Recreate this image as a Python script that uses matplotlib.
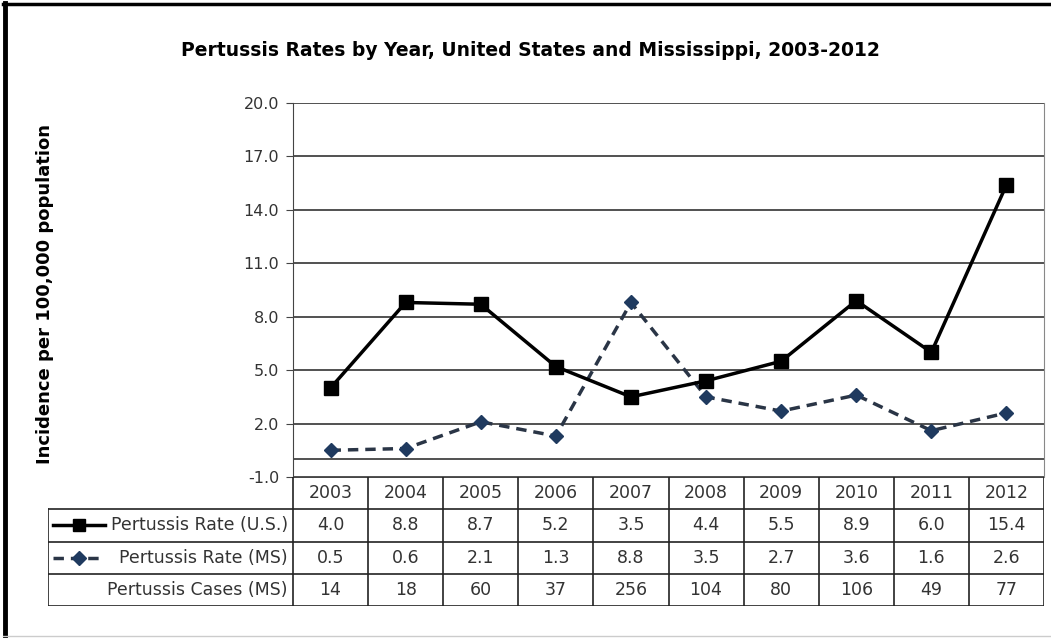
import numpy as np
import matplotlib.pyplot as plt
from matplotlib.lines import Line2D

years = ['2003', '2004', '2005', '2006', '2007', '2008', '2009', '2010', '2011', '2012']
rate_us = [4.0, 8.8, 8.7, 5.2, 3.5, 4.4, 5.5, 8.9, 6.0, 15.4]
rate_ms = [0.5, 0.6, 2.1, 1.3, 8.8, 3.5, 2.7, 3.6, 1.6, 2.6]
cases_ms = [14, 18, 60, 37, 256, 104, 80, 106, 49, 77]
row_labels = ['Pertussis Rate (U.S.)', 'Pertussis Rate (MS)', 'Pertussis Cases (MS)']

plt.rcParams['font.family'] = ['DejaVu Sans']

W, H = 1051, 638
fig = plt.figure(figsize=(W / 100, H / 100), dpi=100)


def px_axes(x0, y0, x1, y1, **kw):
    # axes placed by pixel box (top-left origin)
    return fig.add_axes([x0 / W, 1 - y1 / H, (x1 - x0) / W, (y1 - y0) / H], **kw)


# outer frame
frame = px_axes(0, 0, W, H)
frame.set_xlim(0, W)
frame.set_ylim(H, 0)
frame.axis('off')
frame.plot([5, 5], [3, H], color='black', lw=3.5)
frame.plot([3, W], [4, 4], color='black', lw=2.5)
frame.plot([3, W], [H - 2, H - 2], color='#cccccc', lw=1)

navy = '#1f3a5f'
x = np.arange(len(years))

ax = px_axes(293, 103, 1044, 477)
ax.plot(x, rate_us, color='black', lw=2.5, marker='s', ms=10.5, zorder=4)
ax.plot(x, rate_ms, color='#2a3546', lw=2.5, ls=(0, (3, 2)), marker='D', ms=7.5,
        mfc=navy, mec=navy, zorder=3)
ax.set_xlim(-0.5, len(years) - 0.5)
ax.set_ylim(-1, 20)
ax.set_yticks(np.arange(-1, 20.1, 3))
ax.set_yticklabels([f'{v:.1f}' for v in np.arange(-1, 20.1, 3)])
ax.set_xticks([])
ax.grid(axis='y', color='#333333', lw=1.2)
ax.axhline(0, color='#333333', lw=1.2)
for s in ['top', 'bottom']:
    ax.spines[s].set_visible(False)
ax.spines['left'].set_color('#444444')
ax.spines['right'].set_color('#888888')
ax.tick_params(axis='y', length=5, color='#444444', labelsize=11.5,
               labelcolor='#333333', pad=5)
ax.set_ylabel('Incidence per 100,000 population', fontsize=13, fontweight='bold', labelpad=0)
ax.yaxis.set_label_coords(-0.318, 0.49)
fig.text(530 / W, 1 - 50 / H, 'Pertussis Rates by Year, United States and Mississippi, 2003-2012',
         ha='center', va='center', fontsize=13.5, fontweight='bold')

# data table below plot
lw_col = 245 / 75.1
tx = px_axes(48, 477, 1044, 606)
tx.set_xlim(-0.5 - lw_col, len(years) - 0.5)
tx.set_ylim(4, 0)
tx.axis('off')
lc = '#222222'
# horizontal lines
tx.plot([-0.5, len(years) - 0.5], [0, 0], color=lc, lw=1.2)
for r in [1, 2, 3, 4]:
    tx.plot([-0.5 - lw_col, len(years) - 0.5], [r, r], color=lc, lw=1.2)
# vertical lines
tx.plot([-0.5 - lw_col] * 2, [1, 4], color=lc, lw=1.2)
for c in range(len(years) + 1):
    tx.plot([c - 0.5] * 2, [0, 4], color=lc, lw=1.2)

for i, yr in enumerate(years):
    tx.text(i, 0.5, yr, ha='center', va='center', fontsize=12.5, color='#333333')
rows = [[f'{v:.1f}' for v in rate_us], [f'{v:.1f}' for v in rate_ms], [str(v) for v in cases_ms]]
for r, vals in enumerate(rows):
    for i, v in enumerate(vals):
        tx.text(i, r + 1.5, v, ha='center', va='center', fontsize=12.5, color='#333333')
    tx.text(-0.57, r + 1.5, row_labels[r], ha='right', va='center', fontsize=12.5, color='#333333')

# legend keys in row label cells
kx0 = -0.5 - lw_col + 0.06
kx1 = kx0 + 0.70
tx.add_line(Line2D([kx0, kx1], [1.5, 1.5], color='black', lw=2.5))
tx.plot([(kx0 + kx1) / 2], [1.5], marker='s', ms=9, color='black')
tx.add_line(Line2D([kx0, kx1], [2.5, 2.5], color='#2a3546', lw=2.5, ls=(0, (3, 2))))
tx.plot([(kx0 + kx1) / 2], [2.5], marker='D', ms=7, color=navy)

fig.savefig('out.png', dpi=100)
